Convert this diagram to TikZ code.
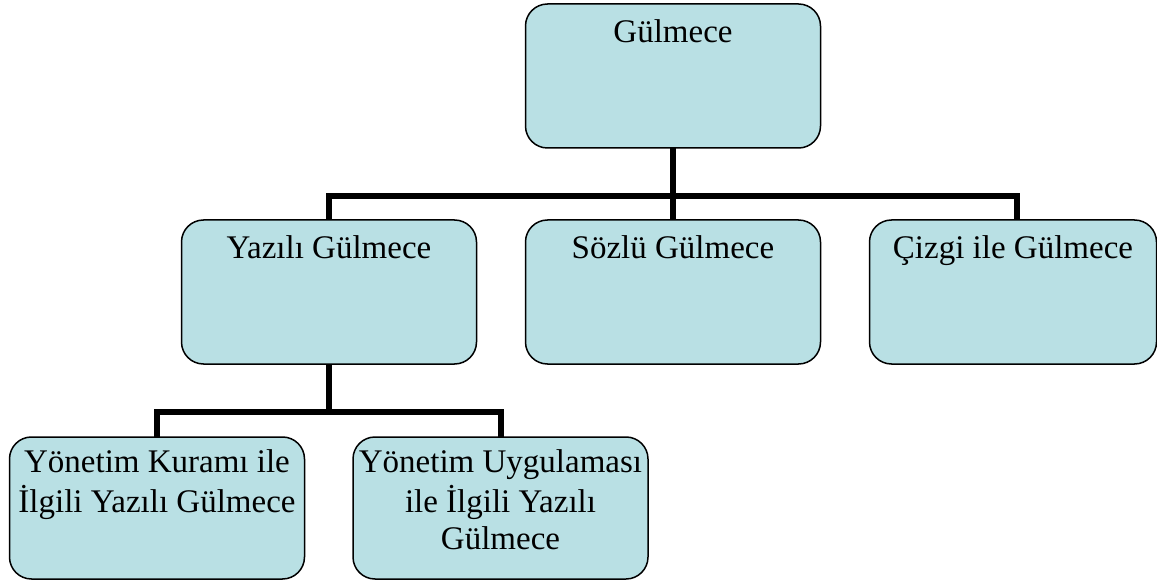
\documentclass[tikz,border=0pt]{standalone}
\usepackage{fontspec}
\setmainfont{Liberation Serif}
\usetikzlibrary{positioning}
\definecolor{kutumavi}{RGB}{185,224,228}
\tikzset{every node/.style={inner sep=0pt, outer sep=0pt}}
\tikzset{kutu/.style={rectangle, rounded corners=22pt, draw=black, line width=1.5pt, fill=kutumavi, minimum width=295pt, minimum height=144pt}}
\tikzset{yazi/.style={align=center, font=\fontsize{33}{37}\selectfont}}
\tikzset{bag/.style={line width=6pt}}

\begin{document}
\begin{tikzpicture}
    \useasboundingbox (0,0) rectangle (1157pt,-580pt);

    \node[kutu] at (673pt,-76pt) (Gul) {};
    \node[yazi,below=13pt of Gul.north] (GulText) {\strut Gülmece};

    \node[kutu,below=72pt of Gul] (Soz) {};
    \node[yazi,below=13pt of Soz.north] (SozText) {\strut Sözlü Gülmece};

    \node[kutu,left=49pt of Soz] (Yaz) {};
    \node[yazi,below=13pt of Yaz.north] (YazText) {\strut Yazılı Gülmece};

    \node[kutu,minimum width=287pt,right=49pt of Soz] (Ciz) {};
    \node[yazi,below=13pt of Ciz.north] (CizText) {\strut Çizgi ile Gülmece};

    \node[kutu,minimum height=142pt,below=73pt of Yaz,xshift=-172pt] (Kur) {};
    \node[yazi,below=10pt of Kur.north] (KurText) {\strut Yönetim Kuramı ile\\İlgili Yazılı Gülmece};

    \node[kutu,minimum height=142pt,below=73pt of Yaz,xshift=171.5pt] (Uyg) {};
    \node[yazi,below=10pt of Uyg.north] (UygText) {\strut Yönetim Uygulaması\\ile İlgili Yazılı\\Gülmece};

    % baglantilar
    \coordinate[below=48pt of Gul.south] (Bar1);
    \draw[bag] (Gul.south) -- (Soz.north);
    \draw[bag] (Yaz.north) |- (Bar1) -| ([xshift=4pt]Ciz.north);

    \coordinate[below=48pt of Yaz.south] (Bar2);
    \draw[bag] (Yaz.south) -- (Bar2);
    \draw[bag] (Kur.north) |- (Bar2) -| (Uyg.north);

\end{tikzpicture}
\end{document}
